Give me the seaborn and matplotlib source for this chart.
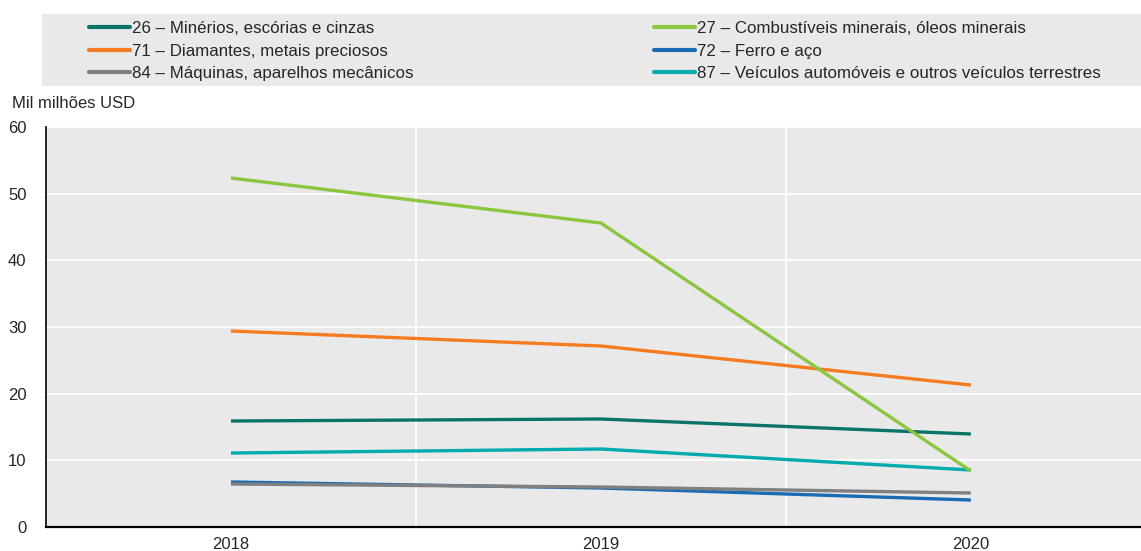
import matplotlib
matplotlib.use("Agg")
import matplotlib.pyplot as plt
from matplotlib.patches import Rectangle
from matplotlib.ticker import FixedLocator
import seaborn as sns
import pandas as pd

years = ["2018", "2019", "2020"]
labels = [
    "26 – Minérios, escórias e cinzas",
    "27 – Combustíveis minerais, óleos minerais",
    "71 – Diamantes, metais preciosos",
    "72 – Ferro e aço",
    "84 – Máquinas, aparelhos mecânicos",
    "87 – Veículos automóveis e outros veículos terrestres",
]
v26 = [15.9, 16.2, 13.95]
v27 = [52.35, 45.6, 8.4]
v71 = [29.4, 27.15, 21.3]
v72 = [6.75, 5.85, 4.05]
v84 = [6.45, 6.0, 5.1]
v87 = [11.1, 11.7, 8.55]
colors = ["#0b7468", "#8cc63f", "#f47b20", "#1b6bb4", "#808080", "#00aaad"]

series = [v26, v27, v71, v72, v84, v87]
rows = []
for lab, vals in zip(labels, series):
    for i, y in enumerate(years):
        rows.append({"Ano": i, "Produto": lab, "Valor": vals[i]})
df = pd.DataFrame(rows)

sns.set_style("white")
plt.rcParams["font.family"] = ["Liberation Sans", "DejaVu Sans"]

fig = plt.figure(figsize=(11.41, 5.51), dpi=100)
ax = fig.add_axes([46 / 1141, 1 - 527 / 551, 1 - 46 / 1141, 400 / 551])
ax.set_facecolor("#e9e9e9")

# draw order: make green sit above cyan at the end
order = [labels[5], labels[0], labels[2], labels[3], labels[4], labels[1]]
pal = dict(zip(labels, colors))
for lab in order:
    sns.lineplot(data=df[df["Produto"] == lab], x="Ano", y="Valor", color=pal[lab],
                 linewidth=2.4, ax=ax, legend=False, solid_capstyle="butt")

ax.set_xlim(-0.5, 2.46)
ax.set_ylim(0, 60)
ax.set_xticks([0, 1, 2])
ax.set_xticklabels(years)
ax.xaxis.set_minor_locator(FixedLocator([0.5, 1.5]))
ax.set_yticks(range(0, 61, 10))
ax.grid(axis="y", color="white", linewidth=1.3)
ax.grid(axis="x", which="minor", color="white", linewidth=1.3)
ax.grid(axis="x", which="major", visible=False)
ax.set_axisbelow(True)
ax.tick_params(axis="x", which="major", length=0, labelsize=12, pad=7)
ax.tick_params(axis="x", which="minor", length=4, direction="in", width=1, color="black")
ax.tick_params(axis="y", length=4, width=1, labelsize=12, pad=10, color="black")
ax.set_xlabel("")
ax.set_ylabel("")
for s in ["top", "right"]:
    ax.spines[s].set_visible(False)
ax.spines["left"].set_color("black")
ax.spines["bottom"].set_color("black")
ax.spines["left"].set_linewidth(1.2)
ax.spines["bottom"].set_linewidth(1.6)

fig.text(12 / 1141, 1 - 103 / 551, "Mil milhões USD", fontsize=12, va="center", ha="left")

# legend background
fig.patches.append(Rectangle((42 / 1141, 1 - 86 / 551), 1 - 42 / 1141, 72 / 551,
                             transform=fig.transFigure, facecolor="#e9e9e9",
                             edgecolor="none", zorder=0))

handles = [plt.Line2D([], [], color=c, linewidth=3) for c in colors]
left = [0, 2, 4]
right = [1, 3, 5]
for idx, x0 in [(left, 89), (right, 654)]:
    leg = fig.legend([handles[i] for i in idx], [labels[i] for i in idx],
                     loc="upper left", bbox_to_anchor=(x0 / 1141, 1 - 21 / 551),
                     frameon=False, fontsize=12.2, handlelength=2.4,
                     handletextpad=0.15, labelspacing=0.45, borderpad=0,
                     borderaxespad=0)

fig.savefig("out.png", dpi=100)
